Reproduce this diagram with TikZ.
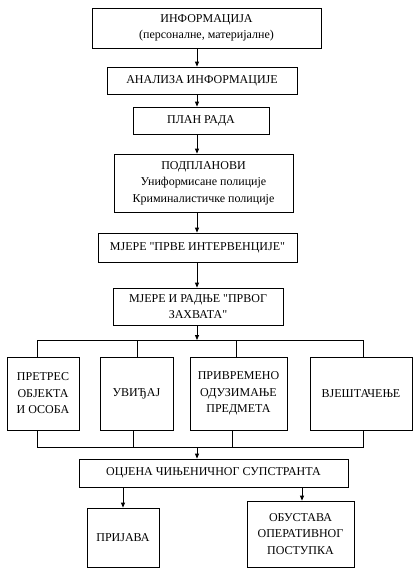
\documentclass[tikz,border=0pt]{standalone}
\usepackage{fontspec}
\setmainfont{Liberation Serif}[Ligatures=TeXOff]
\usetikzlibrary{arrows.meta}
\begin{document}
\begin{tikzpicture}[x=1pt,y=-1pt,
  box/.style={draw,line width=0.8pt,inner sep=0pt,align=center,font=\fontsize{12}{16.5}\selectfont},
  arr/.style={line width=0.8pt,-{Triangle[length=5pt,width=4pt]}},
  ln/.style={line width=0.8pt}]
\useasboundingbox (0,0) rectangle (420,581);
\fill[white] (0,0) rectangle (420,581);
\newcommand{\bx}[6]{\node[box,minimum width=#4-#2,minimum height=#5-#3] (#1) at ({(#2+#4)/2},{(#3+#5)/2}) {#6};}
\bx{b1}{92}{8}{321}{48}{ИНФОРМАЦИЈА\\(персоналне, материјалне)}
\bx{b2}{107}{67}{297}{94}{АНАЛИЗА ИНФОРМАЦИЈЕ}
\bx{b3}{133}{107}{269}{134}{ПЛАН РАДА}
\bx{b4}{114}{154}{293}{212}{ПОДПЛАНОВИ\\Униформисане полиције\\Криминалистичке полиције}
\bx{b5}{98}{233}{297}{262}{МЈЕРЕ "ПРВЕ ИНТЕРВЕНЦИЈЕ"}
\bx{b6}{113}{288}{283}{325}{МЈЕРЕ И РАДЊЕ "ПРВОГ\\ЗАХВАТА"}
\bx{a1}{7}{357}{79}{430}{ПРЕТРЕС\\ОБЈЕКТА\\И ОСОБА}
\bx{a2}{100}{357}{173}{430}{УВИЂАЈ}
\bx{a3}{190}{357}{287}{430}{ПРИВРЕМЕНО\\ОДУЗИМАЊЕ\\ПРЕДМЕТА}
\bx{a4}{310}{357}{412}{430}{ВЈЕШТАЧЕЊЕ}
\bx{b7}{79}{459}{348}{487}{ОЦЈЕНА ЧИЊЕНИЧНОГ СУПСТРАНТА}
\bx{b8}{87}{508}{159}{567}{ПРИЈАВА}
\bx{b9}{247}{501}{354}{567}{ОБУСТАВА\\ОПЕРАТИВНОГ\\ПОСТУПКА}
\coordinate (t1) at (197,340);
\coordinate (t2) at (197,447);
\draw[arr] (197,0 |- b1.south) -- (197,0 |- b2.north);
\draw[arr] (197,0 |- b2.south) -- (197,0 |- b3.north);
\draw[arr] (197,0 |- b3.south) -- (197,0 |- b4.north);
\draw[arr] (197,0 |- b4.south) -- (197,0 |- b5.north);
\draw[arr] (197,0 |- b5.south) -- (197,0 |- b6.north);
\draw[arr] (197,0 |- b6.south) -- (t1);
\draw[ln] (37,0 |- a1.north) -- (37,340) -- (363,340) -- (363,0 |- a4.north);
\draw[ln] (137,0 |- a2.north) -- (137,340);
\draw[ln] (236,0 |- a3.north) -- (236,340);
\draw[ln] (37,0 |- a1.south) -- (37,447) -- (363,447) -- (363,0 |- a4.south);
\draw[ln] (133,0 |- a2.south) -- (133,447);
\draw[ln] (232,0 |- a3.south) -- (232,447);
\draw[arr] (t2) -- (197,0 |- b7.north);
\draw[arr] (123,0 |- b7.south) -- (123,0 |- b8.north);
\draw[arr] (302,0 |- b7.south) -- (302,0 |- b9.north);
\end{tikzpicture}
\end{document}
